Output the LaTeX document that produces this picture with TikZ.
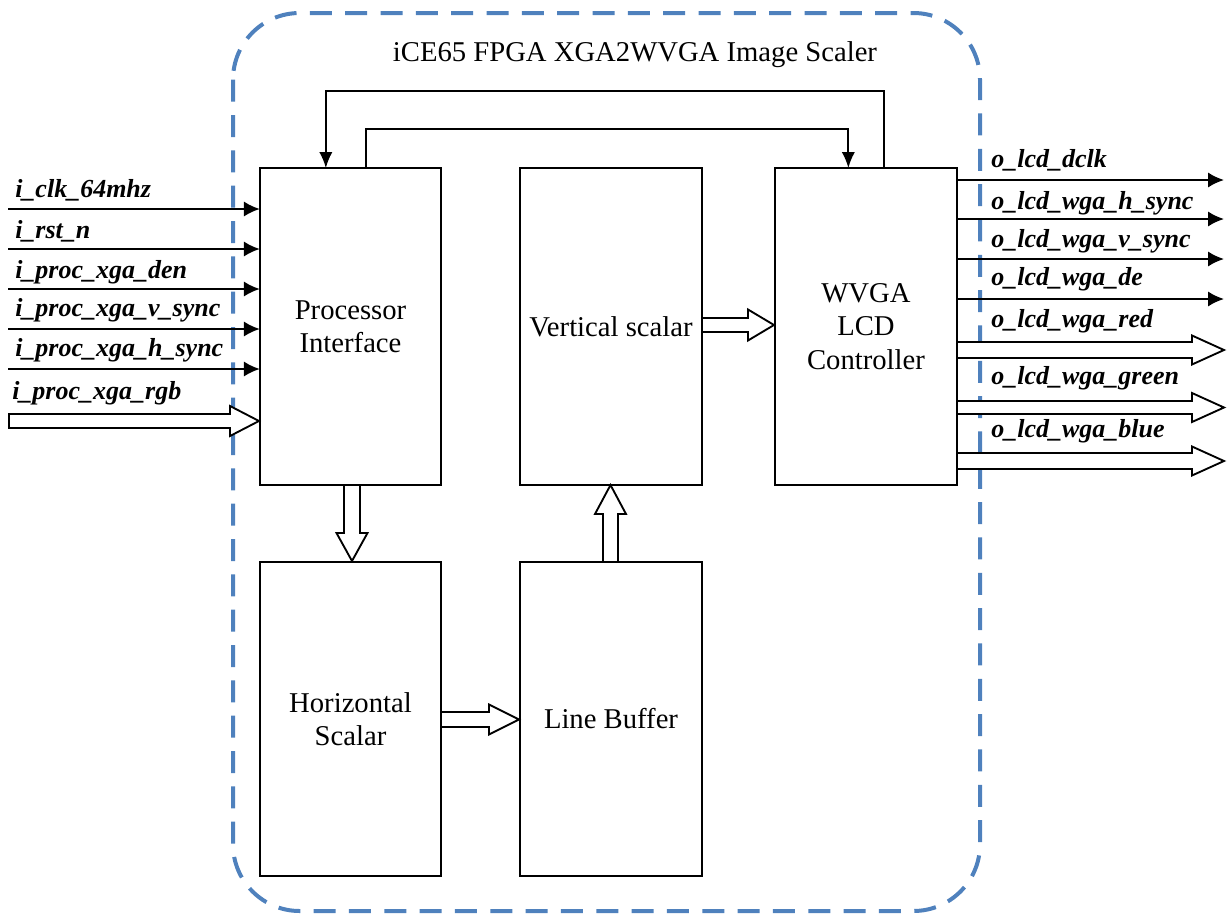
\documentclass[tikz,border=0pt]{standalone}
\usepackage{fontspec}
\setmainfont{Liberation Serif}
\usetikzlibrary{arrows.meta,calc}
\definecolor{dashblue}{HTML}{4F81BD}
% right-pointing hollow arrow: x1, x2, yc, half shaft, half head, head length
\newcommand\fatR[6]{\draw[fat] (#1,#3-#4) -- (#2-#6,#3-#4) -- (#2-#6,#3-#5) -- (#2,#3) -- (#2-#6,#3+#5) -- (#2-#6,#3+#4) -- (#1,#3+#4) -- cycle;}
% vertical hollow arrow: xc, y1 (start), y2 (tip), half shaft, half head, signed head length (towards start)
\newcommand\fatV[6]{\draw[fat] (#1-#4,#2) -- (#1-#4,#3+#6) -- (#1-#5,#3+#6) -- (#1,#3) -- (#1+#5,#3+#6) -- (#1+#4,#3+#6) -- (#1+#4,#2) -- cycle;}
\begin{document}
\begin{tikzpicture}[x=0.75pt,y=-0.75pt,
  blk/.style={draw, line width=1.5pt, inner sep=0pt, outer sep=0pt, minimum width=136pt, align=center,
    font=\fontsize{21.5}{25}\selectfont},
  top/.style={minimum height=237.75pt},
  bot/.style={minimum height=235.5pt},
  sig/.style={line width=1.6pt, -{Latex[length=12pt,width=11.5pt]}},
  fb/.style={line width=1.3pt, -{Latex[length=12pt,width=10pt]}},
  fat/.style={draw, line width=1.4pt, fill=white, line join=miter},
  lbl/.style={anchor=west, inner sep=0pt, font=\fontsize{19.5}{22}\selectfont\bfseries\itshape}]
\useasboundingbox (0,0) rectangle (1227,914);
% dashed boundary
\draw[dashblue, line width=3pt, dash pattern=on 16.5pt off 10pt, rounded corners=50pt] (233,13) rectangle (980,911);
\node[font=\fontsize{21.5}{25}\selectfont] (title) at (635,55) {iCE65 FPGA XGA2WVGA Image Scaler};
% blocks
\node[blk,top] (PI) at (350.5,326.5) {Processor\\Interface};
\node[blk,top] (VS) at (611,326.5) {Vertical scalar};
\node[blk,top] (WV) at (866,326.5) {WVGA\\LCD\\Controller};
\node[blk,bot] (HS) at (350.5,719) {Horizontal\\Scalar};
\node[blk,bot] (LB) at (611,719) {Line Buffer};
% feedback loops
\draw[fb] ($(WV.north west)+(109,0)$) |- ($(PI.north west)+(66,-77)$) -- ($(PI.north west)+(66,0)$);
\draw[fb] ($(PI.north west)+(106,0)$) |- ($(WV.north west)+(73,-39)$) -- ($(WV.north west)+(73,0)$);
% inputs
\foreach \y/\n in {209/i1,249/i2,289/i3,329/i4,369/i5}{
  \coordinate (\n) at (8,\y);
  \draw[sig] (\n) -- (\n -| PI.west);
}
\node[lbl] (li1) at (15,190) {i\_clk\_64mhz};
\node[lbl] (li2) at (15,231) {i\_rst\_n};
\node[lbl] (li3) at (15,272) {i\_proc\_xga\_den};
\node[lbl] (li4) at (15,310) {i\_proc\_xga\_v\_sync};
\node[lbl] (li5) at (15,350) {i\_proc\_xga\_h\_sync};
\node[lbl] (li6) at (12,393) {i\_proc\_xga\_rgb};
\fatR{9}{259}{421}{7}{15}{29}
% outputs
\foreach \y/\n in {180/o1,219/o2,259/o3,299/o4}{
  \coordinate (\n) at (1224,\y);
  \draw[sig] (\n -| WV.east) -- (\n);
}
\node[lbl] (lo1) at (991,160) {o\_lcd\_dclk};
\node[lbl] (lo2) at (991,203) {o\_lcd\_wga\_h\_sync};
\node[lbl] (lo3) at (991,241) {o\_lcd\_wga\_v\_sync};
\node[lbl] (lo4) at (991,279) {o\_lcd\_wga\_de};
\node[lbl] (lo5) at (991,321) {o\_lcd\_wga\_red};
\node[lbl] (lo6) at (991,378) {o\_lcd\_wga\_green};
\node[lbl] (lo7) at (991,431) {o\_lcd\_wga\_blue};
\fatR{957}{1224}{350}{8}{14.5}{32}
\fatR{957}{1224}{407.5}{6.5}{14.5}{32}
\fatR{957}{1224}{461}{8}{14.5}{32}
% internal data paths
\fatR{702}{774}{325}{7}{15.5}{26}
\fatR{441}{519}{719.5}{7.5}{15}{30}
\fatV{352}{485}{561}{8}{15.5}{-28}
\fatV{610.5}{562}{485}{7.5}{15.5}{29}
\end{tikzpicture}
\end{document}
